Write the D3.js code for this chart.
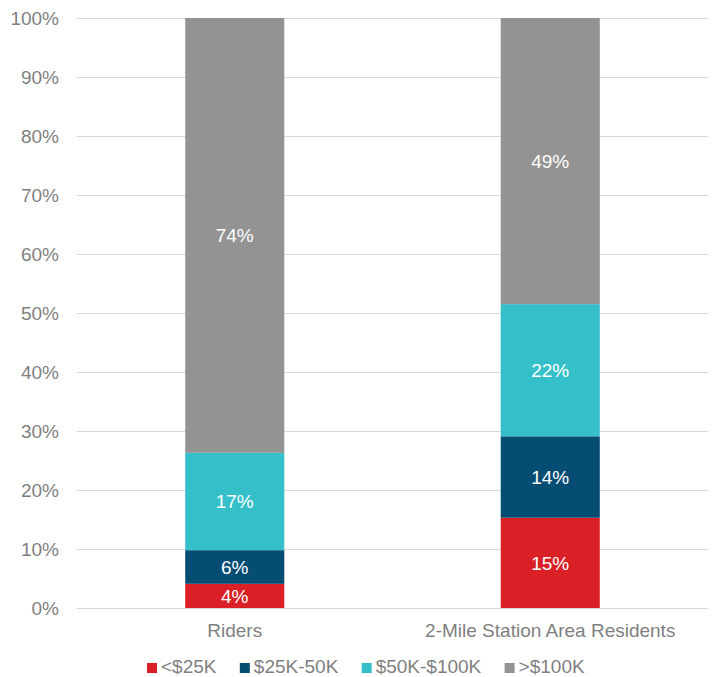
<!DOCTYPE html>
<html>
<head>
<meta charset="utf-8">
<script src="https://cdn.jsdelivr.net/npm/d3@7"></script>
<style>
  body { margin: 0; background: #fff; }
  text { font-family: "Liberation Sans", Arial, sans-serif; }
</style>
</head>
<body>
<div class="canvas"></div>
<script>
const width = 713;
const height = 677;

// Data (percent of each group)
const groups = ["Riders", "2-Mile Station Area Residents"];
const incomeBands = ["<$25K", "$25K-50K", "$50K-$100K", ">$100K"];
const riders = [4.1, 5.7, 16.5, 73.7];
const residents = [15.3, 13.8, 22.4, 48.5];
const yTicks = [0, 10, 20, 30, 40, 50, 60, 70, 80, 90, 100];
const colors = ["#da1f26", "#064d73", "#35bfc8", "#939393"];

const margin = { top: 18, right: 5, bottom: 69, left: 77 };
const fontSize = "19px";

const table = groups.map((g, i) => {
  const row = { group: g };
  const vals = i === 0 ? riders : residents;
  incomeBands.forEach((b, j) => (row[b] = vals[j]));
  return row;
});

const series = d3.stack().keys(incomeBands)(table);

const xScale = d3
  .scaleBand()
  .domain(groups)
  .range([margin.left, width - margin.right])
  .paddingInner(0.686)
  .paddingOuter(0.343);

const yScale = d3
  .scaleLinear()
  .domain([0, 100])
  .range([height - margin.bottom, margin.top]);

const color = d3.scaleOrdinal().domain(incomeBands).range(colors);

const svg = d3
  .select(".canvas")
  .append("svg")
  .attr("width", width)
  .attr("height", height);

// Gridlines
svg
  .append("g")
  .selectAll("line")
  .data(yTicks)
  .enter()
  .append("line")
  .attr("x1", margin.left)
  .attr("x2", width - margin.right)
  .attr("y1", d => yScale(d) + 0.5)
  .attr("y2", d => yScale(d) + 0.5)
  .attr("stroke", "#d9d9d9")
  .attr("stroke-width", 1);

// Y axis labels
const yAxis = d3
  .axisLeft(yScale)
  .tickValues(yTicks)
  .tickFormat(d => d + "%")
  .tickSize(0)
  .tickPadding(18);

svg
  .append("g")
  .attr("transform", `translate(${margin.left},0)`)
  .call(yAxis)
  .call(g => g.select(".domain").remove())
  .selectAll("text")
  .attr("fill", "#7f7f7f")
  .style("font-size", fontSize);

// X axis labels
const xAxis = d3.axisBottom(xScale).tickSize(0).tickPadding(16);

svg
  .append("g")
  .attr("transform", `translate(0,${height - margin.bottom})`)
  .call(xAxis)
  .call(g => g.select(".domain").remove())
  .selectAll("text")
  .attr("fill", "#7f7f7f")
  .style("font-size", fontSize);

// Stacked bars
const layers = svg
  .append("g")
  .selectAll("g")
  .data(series)
  .enter()
  .append("g")
  .attr("fill", d => color(d.key));

layers
  .selectAll("rect")
  .data(d => d)
  .enter()
  .append("rect")
  .attr("x", d => xScale(d.data.group))
  .attr("y", d => yScale(d[1]))
  .attr("height", d => yScale(d[0]) - yScale(d[1]))
  .attr("width", xScale.bandwidth());

// Value labels
layers
  .selectAll("text")
  .data(d => d)
  .enter()
  .append("text")
  .attr("x", d => xScale(d.data.group) + xScale.bandwidth() / 2)
  .attr("y", d => (yScale(d[0]) + yScale(d[1])) / 2)
  .attr("dy", "0.35em")
  .attr("text-anchor", "middle")
  .attr("fill", "#fff")
  .style("font-size", fontSize)
  .text(d => Math.round(d[1] - d[0]) + "%");

// Legend
const legend = svg.append("g").attr("transform", "translate(0,673)");

const items = legend
  .selectAll("g")
  .data(incomeBands)
  .enter()
  .append("g");

items
  .append("rect")
  .attr("y", -10)
  .attr("width", 10)
  .attr("height", 10)
  .attr("fill", d => color(d));

items
  .append("text")
  .attr("x", 14)
  .attr("fill", "#7f7f7f")
  .style("font-size", fontSize)
  .text(d => d);

const gap = 23;
const widths = [];
items.each(function() {
  widths.push(this.getBBox().width);
});
const total = d3.sum(widths) + gap * (widths.length - 1);
let xPos = 366 - total / 2;
items.attr("transform", (d, i) => {
  const t = `translate(${xPos},0)`;
  xPos += widths[i] + gap;
  return t;
});
</script>
</body>
</html>
